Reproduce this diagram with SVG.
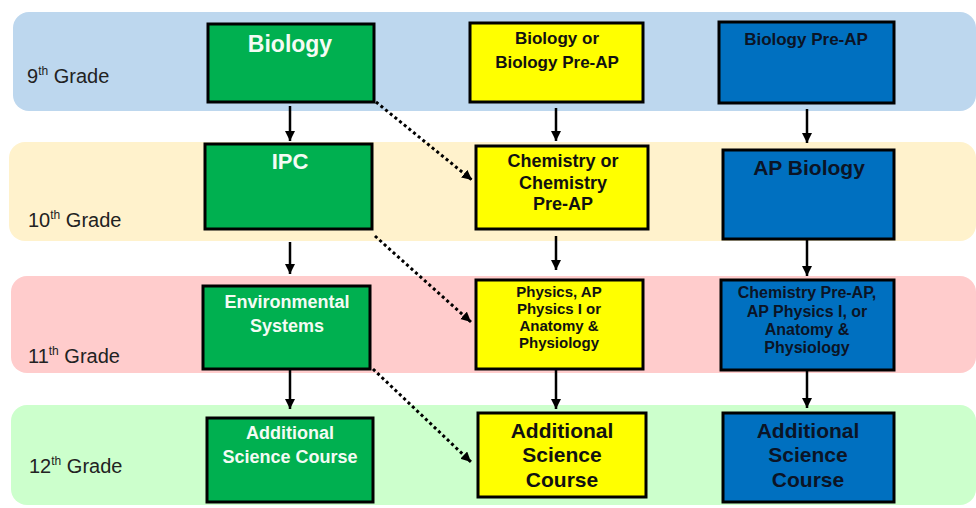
<svg xmlns="http://www.w3.org/2000/svg" width="976" height="508" viewBox="0 0 976 508">
<style>
.band{stroke:none}
.box{stroke:#000;stroke-width:3}
.g{fill:#00b050}
.y{fill:#ffff00}
.b{fill:#0070c0}
.lbl{font-family:"Liberation Sans",Arial,sans-serif;font-size:20px;fill:#222}
.t{font-family:"Liberation Sans",Arial,sans-serif;font-weight:bold;text-anchor:middle}
.wt{fill:#f4fbf4}
.dk{fill:#111}
.nv{fill:#0b1426}
.solid{stroke:#000;stroke-width:2.5;fill:none}
.dot{stroke:#000;stroke-width:3;fill:none;stroke-dasharray:3 3}
</style>
<defs>
<marker id="ah" markerUnits="userSpaceOnUse" markerWidth="12" markerHeight="12" refX="10" refY="5" orient="auto">
<path d="M0,0 L10,5 L0,10 Z" fill="#000"/>
</marker>
</defs>
<g id="bands">
<rect class="band" x="13" y="12" width="963" height="99" rx="16" fill="#bdd7ee"/>
<rect class="band" x="9" y="142" width="967" height="99" rx="16" fill="#fff2cc"/>
<rect class="band" x="11" y="276" width="965" height="97" rx="16" fill="#ffcccc"/>
<rect class="band" x="11" y="405" width="965" height="100" rx="16" fill="#ccffcc"/>
</g>
<g id="grade-labels">
<text class="lbl" x="27" y="83">9<tspan dy="-8" font-size="12">th</tspan><tspan dy="8"> Grade</tspan></text>
<text class="lbl" x="28" y="227">10<tspan dy="-8" font-size="12">th</tspan><tspan dy="8"> Grade</tspan></text>
<text class="lbl" x="28" y="363">11<tspan dy="-8" font-size="12">th</tspan><tspan dy="8"> Grade</tspan></text>
<text class="lbl" x="29" y="473">12<tspan dy="-8" font-size="12">th</tspan><tspan dy="8"> Grade</tspan></text>
</g>
<g id="n-biology">
<rect class="box g" x="208" y="24" width="166" height="78"/>
<text class="t wt" x="290" y="52" font-size="23">Biology</text>
</g>
<g id="n-ipc">
<rect class="box g" x="205" y="144" width="167" height="85"/>
<text class="t wt" x="290" y="169" font-size="22" font-weight="normal">IPC</text>
</g>
<g id="n-env">
<rect class="box g" x="203" y="286" width="167" height="83"/>
<text class="t wt" x="287" y="308" font-size="18">Environmental</text>
<text class="t wt" x="287" y="332" font-size="18">Systems</text>
</g>
<g id="n-add-g">
<rect class="box g" x="207" y="418" width="166" height="84"/>
<text class="t wt" x="290" y="439" font-size="18">Additional</text>
<text class="t wt" x="290" y="463" font-size="18">Science Course</text>
</g>
<g id="n-bio-or">
<rect class="box y" x="470" y="23" width="173" height="79"/>
<text class="t dk" x="557" y="44" font-size="17">Biology or</text>
<text class="t dk" x="557" y="68" font-size="17">Biology Pre-AP</text>
</g>
<g id="n-chem-or">
<rect class="box y" x="476" y="146" width="172" height="83"/>
<text class="t dk" x="563" y="167" font-size="18">Chemistry or</text>
<text class="t dk" x="563" y="189" font-size="18">Chemistry</text>
<text class="t dk" x="563" y="210" font-size="18">Pre-AP</text>
</g>
<g id="n-physics">
<rect class="box y" x="476" y="280" width="167" height="89"/>
<text class="t dk" x="559" y="297" font-size="15">Physics, AP</text>
<text class="t dk" x="559" y="314" font-size="15">Physics I or</text>
<text class="t dk" x="559" y="331" font-size="15">Anatomy &amp;</text>
<text class="t dk" x="559" y="348" font-size="15">Physiology</text>
</g>
<g id="n-add-y">
<rect class="box y" x="478" y="413" width="168" height="84"/>
<text class="t dk" x="562" y="438" font-size="21">Additional</text>
<text class="t dk" x="562" y="462" font-size="21">Science</text>
<text class="t dk" x="562" y="487" font-size="21">Course</text>
</g>
<g id="n-bio-preap">
<rect class="box b" x="719" y="22" width="175" height="81"/>
<text class="t nv" x="806" y="45" font-size="17">Biology Pre-AP</text>
</g>
<g id="n-ap-bio">
<rect class="box b" x="723" y="150" width="171" height="89"/>
<text class="t nv" x="809" y="175" font-size="21">AP Biology</text>
</g>
<g id="n-chem-preap">
<rect class="box b" x="721" y="280" width="173" height="90"/>
<text class="t nv" x="807" y="298" font-size="16">Chemistry Pre-AP,</text>
<text class="t nv" x="807" y="317" font-size="16">AP Physics I, or</text>
<text class="t nv" x="807" y="335" font-size="16">Anatomy &amp;</text>
<text class="t nv" x="807" y="353" font-size="16">Physiology</text>
</g>
<g id="n-add-b">
<rect class="box b" x="723" y="413" width="171" height="89"/>
<text class="t nv" x="808" y="438" font-size="21">Additional</text>
<text class="t nv" x="808" y="462" font-size="21">Science</text>
<text class="t nv" x="808" y="487" font-size="21">Course</text>
</g>
<g id="connectors">
<line class="solid" x1="290" y1="106" x2="290" y2="141" marker-end="url(#ah)"/>
<line class="solid" x1="290" y1="242" x2="290" y2="274" marker-end="url(#ah)"/>
<line class="solid" x1="290" y1="370" x2="290" y2="409" marker-end="url(#ah)"/>
<line class="solid" x1="556" y1="108" x2="556" y2="141" marker-end="url(#ah)"/>
<line class="solid" x1="556" y1="236" x2="556" y2="270" marker-end="url(#ah)"/>
<line class="solid" x1="556" y1="370" x2="556" y2="409" marker-end="url(#ah)"/>
<line class="solid" x1="807" y1="109" x2="807" y2="143" marker-end="url(#ah)"/>
<line class="solid" x1="807" y1="240" x2="807" y2="276" marker-end="url(#ah)"/>
<line class="solid" x1="807" y1="371" x2="807" y2="408" marker-end="url(#ah)"/>
<line class="dot" x1="376" y1="102" x2="472" y2="180" marker-end="url(#ah)"/>
<line class="dot" x1="375" y1="236" x2="471" y2="322" marker-end="url(#ah)"/>
<line class="dot" x1="373" y1="369" x2="471" y2="462" marker-end="url(#ah)"/>
</g>
</svg>
